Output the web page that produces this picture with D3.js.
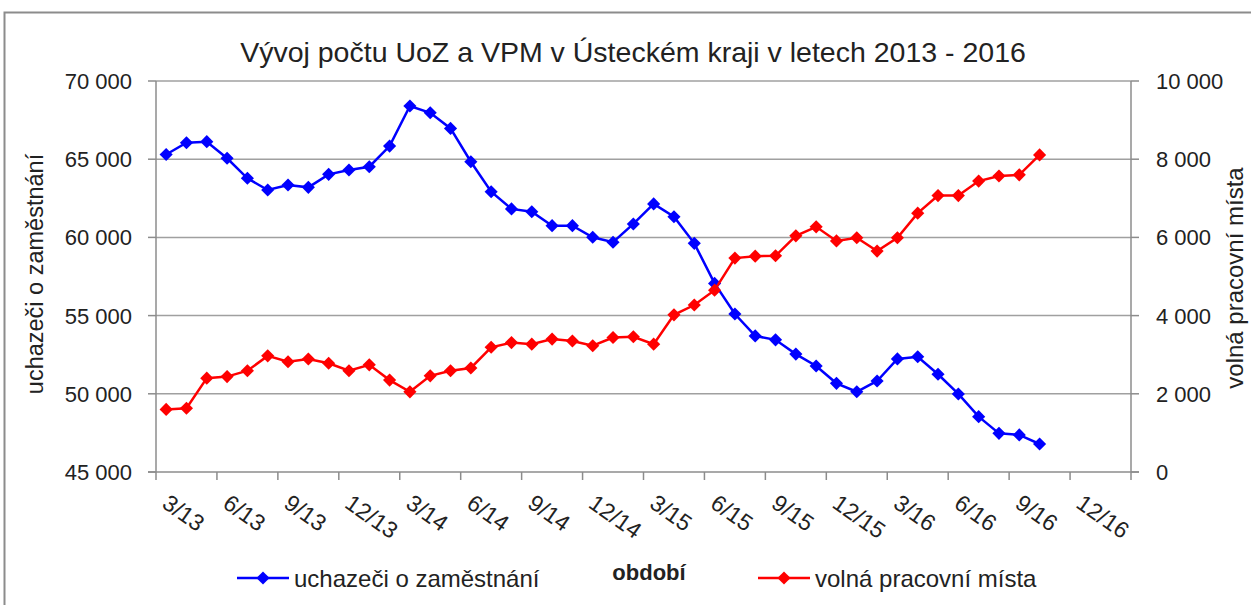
<!DOCTYPE html>
<html lang="cs">
<head>
    <meta charset="UTF-8">
    <title>Vývoj počtu UoZ a VPM</title>
    <script src="https://d3js.org/d3.v7.min.js"></script>
    <style>
        body { margin: 0; background: #fff; }
        text { font-family: 'Liberation Sans', Arial, sans-serif; fill: #222; }
        .grid { stroke: #a0a0a0; stroke-width: 1.5; }
        .axis { stroke: #8c8c8c; stroke-width: 1.5; }
    </style>
</head>
<body>
    <svg id="chart"></svg>

    <script>
        // uchazeči o zaměstnání (levá osa)
        const uoz = [65300, 66050, 66120, 65060, 63780, 63030, 63350, 63200, 64030, 64310,
                     64520, 65840, 68400, 67970, 66970, 64840, 62920, 61820, 61640, 60750,
                     60750, 60010, 59690, 60860, 62140, 61320, 59620, 57060, 55100, 53700,
                     53450, 52540, 51780, 50670, 50130, 50820, 52230, 52370, 51250, 49990,
                     48540, 47470, 47370, 46790];
        // volná pracovní místa (pravá osa)
        const vpm = [1600, 1630, 2400, 2440, 2590, 2970, 2820, 2890, 2780, 2590,
                     2740, 2350, 2050, 2460, 2590, 2660, 3190, 3310, 3270, 3400,
                     3350, 3230, 3440, 3460, 3270, 4020, 4270, 4650, 5470, 5520,
                     5530, 6040, 6270, 5910, 5990, 5650, 5990, 6620, 7070, 7070,
                     7440, 7570, 7600, 8110];
        const tickLabels = ["3/13", "6/13", "9/13", "12/13", "3/14", "6/14", "9/14", "12/14",
                            "3/15", "6/15", "9/15", "12/15", "3/16", "6/16", "9/16", "12/16"];
        const leftTicks = [45000, 50000, 55000, 60000, 65000, 70000];
        const rightTicks = [0, 2000, 4000, 6000, 8000, 10000];
        const nCategories = 48;

        const W = 1251, H = 605;
        const plotLeft = 156, plotRight = 1131, plotTop = 81, plotBottom = 472;

        const svg = d3.select("#chart").attr("width", W).attr("height", H);

        // rámeček grafu
        svg.append("rect")
            .attr("x", 4.5).attr("y", 12.5)
            .attr("width", 1400).attr("height", 800)
            .attr("fill", "none").attr("stroke", "#8c8c8c").attr("stroke-width", 2);

        const x = d3.scaleBand().domain(d3.range(nCategories)).range([plotLeft, plotRight]);
        const cx = i => x(i) + x.bandwidth() / 2;
        const yL = d3.scaleLinear().domain([45000, 70000]).range([plotBottom, plotTop]);
        const yR = d3.scaleLinear().domain([0, 10000]).range([plotBottom, plotTop]);
        const fmt = v => d3.format(",")(v).replace(/,/g, " ");

        // mřížka
        svg.append("g").selectAll("line")
            .data(leftTicks.slice(1))
            .join("line")
            .attr("class", "grid")
            .attr("x1", plotLeft).attr("x2", plotRight)
            .attr("y1", d => yL(d)).attr("y2", d => yL(d));

        // osy
        const axes = svg.append("g");
        axes.append("line").attr("class", "axis")
            .attr("x1", plotLeft).attr("x2", plotLeft).attr("y1", plotTop).attr("y2", plotBottom);
        axes.append("line").attr("class", "axis")
            .attr("x1", plotRight).attr("x2", plotRight).attr("y1", plotTop).attr("y2", plotBottom);
        axes.append("line").attr("class", "axis")
            .attr("x1", plotLeft - 8).attr("x2", plotRight + 8).attr("y1", plotBottom).attr("y2", plotBottom);

        axes.selectAll(".lt").data(leftTicks).join("line").attr("class", "axis")
            .attr("x1", plotLeft - 8).attr("x2", plotLeft)
            .attr("y1", d => yL(d)).attr("y2", d => yL(d));
        axes.selectAll(".rt").data(rightTicks).join("line").attr("class", "axis")
            .attr("x1", plotRight).attr("x2", plotRight + 8)
            .attr("y1", d => yR(d)).attr("y2", d => yR(d));

        const xTickPos = d3.range(0, nCategories + 1, 3).map(i => i < nCategories ? x(i) : plotRight);
        axes.selectAll(".xt").data(xTickPos).join("line").attr("class", "axis")
            .attr("x1", d => d).attr("x2", d => d)
            .attr("y1", plotBottom).attr("y2", plotBottom + 8);

        // popisky os
        svg.append("g").selectAll("text")
            .data(leftTicks)
            .join("text")
            .attr("x", plotLeft - 24)
            .attr("y", d => yL(d))
            .attr("dy", "0.36em")
            .attr("text-anchor", "end")
            .style("font-size", "22px")
            .text(fmt);

        svg.append("g").selectAll("text")
            .data(rightTicks)
            .join("text")
            .attr("x", plotRight + 25)
            .attr("y", d => yR(d))
            .attr("dy", "0.36em")
            .style("font-size", "22px")
            .text(fmt);

        svg.append("g").selectAll("text")
            .data(tickLabels)
            .join("text")
            .attr("transform", (d, i) => `translate(${cx(i * 3) + 4},${plotBottom + 21}) rotate(35)`)
            .attr("dy", "0.72em")
            .style("font-size", "23px")
            .text(d => d);

        // čáry a značky
        const series = [
            { values: uoz, y: yL, color: "#0000ff" },
            { values: vpm, y: yR, color: "#ff0000" }
        ];
        const diamond = d3.symbol().type(d3.symbolDiamond2).size(110);

        series.forEach(s => {
            svg.append("path")
                .datum(s.values)
                .attr("fill", "none")
                .attr("stroke", s.color)
                .attr("stroke-width", 2.5)
                .attr("d", d3.line().x((d, i) => cx(i)).y(d => s.y(d)));
            svg.append("g").selectAll("path")
                .data(s.values)
                .join("path")
                .attr("transform", (d, i) => `translate(${cx(i)},${s.y(d)})`)
                .attr("d", diamond)
                .attr("fill", s.color);
        });

        // titulky
        svg.append("text")
            .attr("x", 633).attr("y", 62)
            .attr("text-anchor", "middle")
            .style("font-size", "28.5px")
            .text("Vývoj počtu UoZ a VPM v Ústeckém kraji v letech 2013 - 2016");

        svg.append("text")
            .attr("transform", "translate(43,274) rotate(-90)")
            .attr("text-anchor", "middle")
            .style("font-size", "23.5px")
            .text("uchazeči o zaměstnání");

        svg.append("text")
            .attr("transform", "translate(1243,278) rotate(-90)")
            .attr("text-anchor", "middle")
            .style("font-size", "24px")
            .text("volná pracovní místa");

        svg.append("text")
            .attr("x", 649).attr("y", 580)
            .attr("text-anchor", "middle")
            .style("font-size", "22px")
            .style("font-weight", "bold")
            .text("období");

        // legenda
        const legend = [
            { name: "uchazeči o zaměstnání", color: "#0000ff", x: 237 },
            { name: "volná pracovní místa", color: "#ff0000", x: 758 }
        ];
        const lg = svg.append("g").selectAll("g").data(legend).join("g")
            .attr("transform", d => `translate(${d.x},578)`);
        lg.append("line")
            .attr("x1", 0).attr("x2", 52)
            .attr("stroke", d => d.color).attr("stroke-width", 2.5);
        lg.append("path")
            .attr("transform", "translate(26,0)")
            .attr("d", diamond)
            .attr("fill", d => d.color);
        lg.append("text")
            .attr("x", 57).attr("dy", "0.36em")
            .style("font-size", "24px")
            .text(d => d.name);
    </script>
</body>
</html>
